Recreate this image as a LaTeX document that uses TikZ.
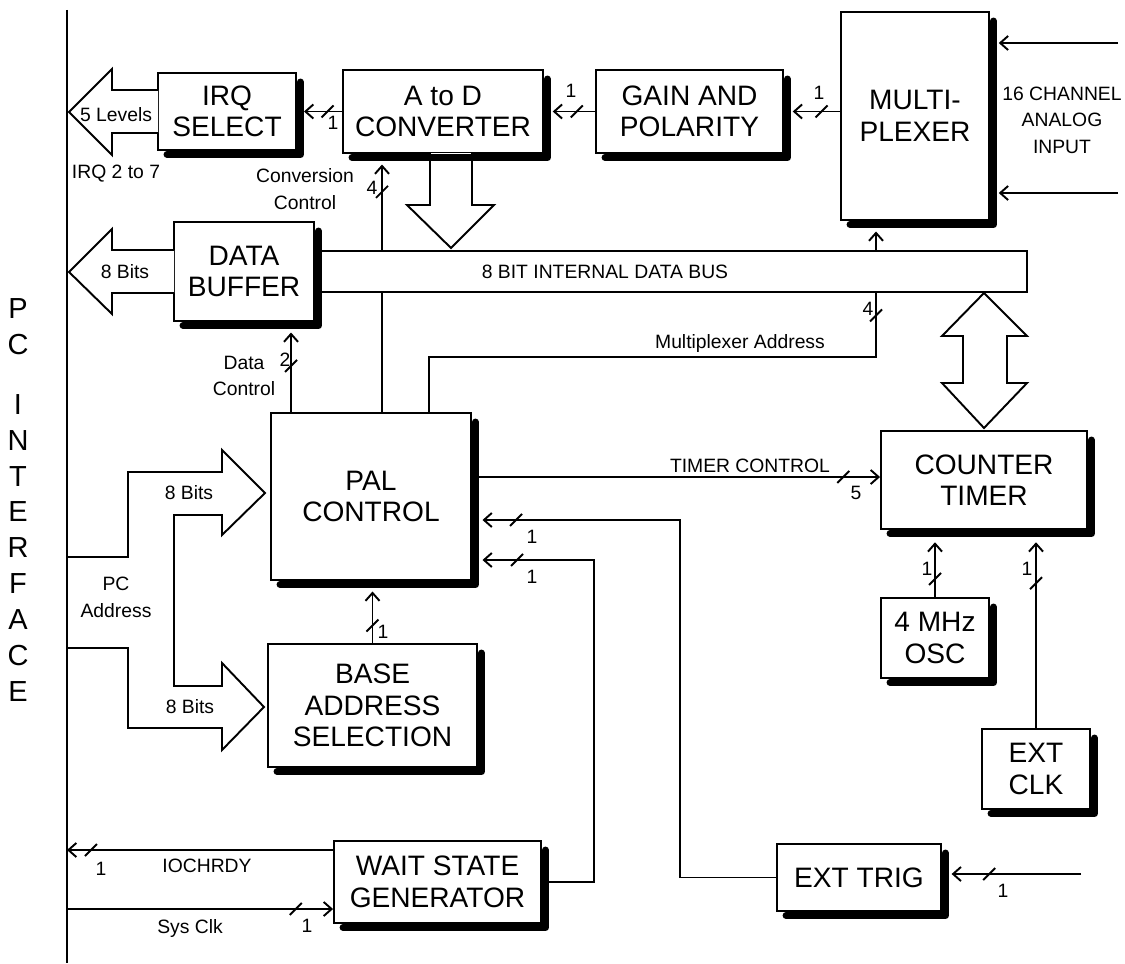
\documentclass[tikz,border=0pt]{standalone}
\usepackage{fontspec}
\setmainfont{Liberation Sans}
\usepackage{tikz}
\usetikzlibrary{arrows.meta}

\newcommand{\blkfont}{\fontsize{16}{18}\selectfont}
\newcommand{\sigfont}{\fontsize{11}{15}\selectfont}

\tikzset{
    blk/.style={draw, line width=1.1pt, fill=white, align=center, font=\blkfont, inner sep=0pt},
    sig/.style={font=\sigfont, align=center, inner sep=0pt},
    shd/.style={line width=4pt, line cap=round, line join=round},
    wide/.style={draw, fill=white, line width=1.1pt},
    slash/.pic={\draw[-] (-6,6) -- (6,-6);}
}

\begin{document}
\begin{tikzpicture}[x=0.02cm, y=-0.02cm, line width=1.1pt, >={Straight Barb[length=4.5pt,width=8pt]}]
                            \useasboundingbox (0,0) rectangle (1125,963);

                            \coordinate (pcTop) at (67,10);
                            \coordinate (pcBot) at (67,963);
                            \coordinate (inA) at (1118,43);
                            \coordinate (inB) at (1118,193);
                            \coordinate (xdc) at (291,0);
                            \coordinate (xcc) at (382,0);
                            \coordinate (xma) at (429,0);
                            \coordinate (xmu) at (876,0);
                            \coordinate (yma) at (0,357);
                            \coordinate (ytc) at (0,477);
                            \coordinate (trTurn) at (680,520);
                            \coordinate (wsTurn) at (594,560);
                            \coordinate (yio) at (0,850);
                            \coordinate (ysc) at (0,909);
                            \coordinate (trIn) at (1081,874);

                            \node[draw, fill=white, minimum width=14.54cm, minimum height=0.82cm] (bus) at (663.5,271.5) {};
                            \node[sig] (busLbl) at (605,272) {8 BIT INTERNAL DATA BUS};

                            \node[blk, minimum width=2.76cm, minimum height=1.54cm] (irq) at (227,111.5) {IRQ\\SELECT};
                            \node[blk, minimum width=4cm, minimum height=1.66cm] (adc) at (443,111.5) {A to D\\CONVERTER};
                            \node[blk, minimum width=3.74cm, minimum height=1.66cm] (gain) at (689.5,111.5) {GAIN AND\\POLARITY};
                            \node[blk, minimum width=2.96cm, minimum height=4.16cm] (mux) at (915,116) {MULTI-\\PLEXER};
                            \node[blk, minimum width=2.8cm, minimum height=1.98cm] (dbuf) at (244,271.5) {DATA\\BUFFER};
                            \node[blk, minimum width=4cm, minimum height=3.34cm] (pal) at (371,496.5) {PAL\\CONTROL};
                            \node[blk, minimum width=4.18cm, minimum height=2.46cm] (base) at (372.5,705.5) {BASE\\ADDRESS\\SELECTION};
                            \node[blk, minimum width=4.14cm, minimum height=1.64cm] (wait) at (437.5,882) {WAIT STATE\\GENERATOR};
                            \node[blk, minimum width=4.12cm, minimum height=1.96cm] (ctr) at (984,480) {COUNTER\\TIMER};
                            \node[blk, minimum width=2.16cm, minimum height=1.6cm] (osc) at (935,638) {4 MHz\\OSC};
                            \node[blk, minimum width=2.16cm, minimum height=1.6cm] (extclk) at (1036,769) {EXT\\CLK};
                            \node[blk, minimum width=3.28cm, minimum height=1.34cm] (trig) at (859,877.5) {EXT TRIG};

                            \node[font=\fontsize{16.5}{20.4}\selectfont, align=center, inner sep=0pt] (pcif) at (18,500)
                                {P\\C\\[13.6pt]I\\N\\T\\E\\R\\F\\A\\C\\E};

                            \draw[->] (adc.west) -- pic[pos=.38]{slash} ([xshift=4pt]irq.east);
                            \draw[->] (gain.west) -- pic[pos=.43]{slash} ([xshift=5pt]adc.east);
                            \draw[->] (mux.west |- gain.west) -- pic[pos=.39]{slash} ([xshift=5pt]gain.east);
                            \draw[->] (inA) -- ([xshift=5pt]inA -| mux.east);
                            \draw[->] (inB) -- ([xshift=5pt]inB -| mux.east);
                            \draw[->] (xmu |- bus.north) -- ([yshift=-6pt]xmu |- mux.south);
                            \draw (xcc |- pal.north) -- (xcc |- bus.south);
                            \draw[->] (xcc |- bus.north) -- pic[pos=.68]{slash} ([yshift=-6pt]xcc |- adc.south);
                            \draw[->] (xdc |- pal.north) -- pic[pos=.58]{slash} ([yshift=-6pt]xdc |- dbuf.south);
                            \draw (xma |- pal.north) |- (xmu |- yma) -- pic[pos=.65]{slash} (xmu |- bus.south);
                            \draw[->] (pal.east |- ytc) -- pic[pos=.91]{slash} (ctr.west |- ytc);
                            \draw[->] (trig.west) -| (trTurn) -- pic[pos=.83]{slash} ([xshift=6pt]pal.east |- trTurn);
                            \draw[->] (wait.east) -| (wsTurn) -- pic[pos=.69]{slash} ([xshift=6pt]pal.east |- wsTurn);
                            \draw[->] (base.north) -- pic[pos=.34]{slash} ([yshift=-6pt]base.north |- pal.south);
                            \draw[->] (osc.north) -- pic[pos=.33]{slash} ([yshift=-7pt]osc.north |- ctr.south);
                            \draw[->] (extclk.north) -- pic[pos=.78]{slash} ([yshift=-7pt]extclk.north |- ctr.south);
                            \draw[->] (wait.west |- yio) -- pic[pos=.91]{slash} (pcTop |- yio);
                            \draw[->] (pcTop |- ysc) -- pic[pos=.86]{slash} (wait.west |- ysc);
                            \draw[->] (trIn) -- pic[pos=.71]{slash} ([xshift=5.5pt]trig.east |- trIn);

                            % wide bus arrows
                            \draw[wide] (158,90) -- (112,90) -- (112,69) -- (69,112) -- (112,155) -- (112,133) -- (158,133);
                            \draw[wide] (174,250) -- (112,250) -- (112,229) -- (69,272) -- (112,314) -- (112,293) -- (174,293);
                            \draw[wide] (67,557) -- (128,557) -- (128,472) -- (222,472) -- (222,450) -- (265,493) -- (222,535) -- (222,515)
                                -- (174,515) -- (174,686) -- (222,686) -- (222,663) -- (264,707) -- (222,750) -- (222,728) -- (128,728) -- (128,648) -- (67,648);
                            \draw[wide] (430,153) -- (430,205) -- (407,205) -- (451,248) -- (494,205) -- (472,205) -- (472,153);
                            \draw[wide] (963,336) -- (942,336) -- (984,293) -- (1027,336) -- (1007,336) -- (1007,383) -- (1027,383)
                                -- (984,428) -- (942,383) -- (963,383) -- cycle;
                            \draw (pcTop) -- (pcBot);

                            \foreach \b in {irq,adc,gain,mux,dbuf,pal,base,wait,ctr,osc,extclk,trig}
                                \draw[shd] ([shift={(10,3.5)}]\b.south west) -- ([shift={(3.5,3.5)}]\b.south east) -- ([shift={(3.5,10)}]\b.north east);

                            \node[sig] (lv) at (116,115) {5 Levels};
                            \node[sig] (irqr) at (116,174) {IRQ 2 to 7};
                            \node[sig] (conv) at (305,189) {Conversion\\Control};
                            \node[sig] (bits1) at (125,272) {8 Bits};
                            \node[sig] (dctl) at (244,376) {Data\\Control};
                            \node[sig] (maddr) at (740,343) {Multiplexer Address};
                            \node[sig] (tctl) at (750,466) {TIMER CONTROL};
                            \node[sig] (bits2) at (189,493) {8 Bits};
                            \node[sig] (pcad) at (116,597.5) {PC\\Address};
                            \node[sig] (bits3) at (190,707) {8 Bits};
                            \node[sig] (ioch) at (207,866) {IOCHRDY};
                            \node[sig] (sysclk) at (190,928) {Sys Clk};
                            \node[sig] (ain) at (1062,120) {16 CHANNEL\\ANALOG\\INPUT};

                            \node[sig] (n1) at (333,123) {1};
                            \node[sig] (n2) at (571,91) {1};
                            \node[sig] (n3) at (819,93) {1};
                            \node[sig] (n4) at (372,188) {4};
                            \node[sig] (n5) at (285,360) {2};
                            \node[sig] (n6) at (868,309) {4};
                            \node[sig] (n7) at (856,493) {5};
                            \node[sig] (n8) at (532,537) {1};
                            \node[sig] (n9) at (532,577) {1};
                            \node[sig] (n10) at (383,632) {1};
                            \node[sig] (n11) at (927,569) {1};
                            \node[sig] (n12) at (1027,569) {1};
                            \node[sig] (n13) at (101,869) {1};
                            \node[sig] (n14) at (307,926) {1};
                            \node[sig] (n15) at (1003,891) {1};
                        \end{tikzpicture}
\end{document}
